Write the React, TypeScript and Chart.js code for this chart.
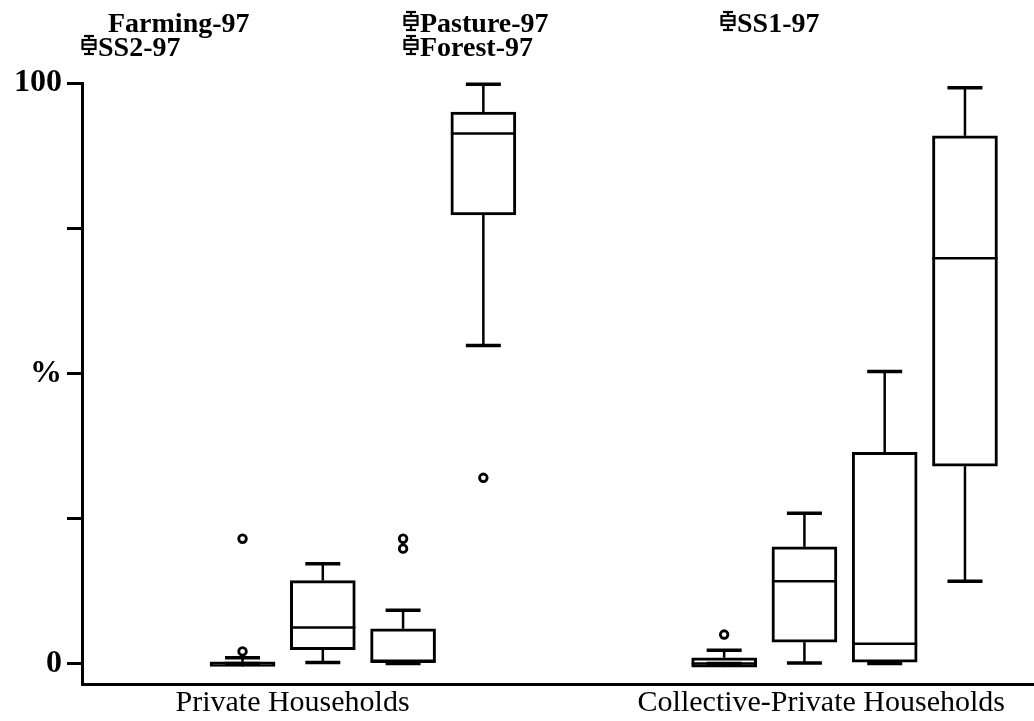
import React, { useEffect, useRef } from "react";
import { Chart, registerables } from "chart.js";

Chart.register(...registerables);

// ---- data ----
const groupLabels = ["Private Households", "Collective-Private Households"];
const legendLabels = ["Farming-97", "Pasture-97", "SS1-97", "SS2-97", "Forest-97"];
const seriesNames = ["Pasture-97", "SS1-97", "SS2-97", "Forest-97"];

// [min, q1, median, q3, max] for each group
const pastureStats = [
  [0, -0.5, 0, 0.3, 1.0],
  [0, -0.6, 0, 1.0, 2.3],
];
const pastureOutliers = [[2.1, 21.5], [5.0]];

const ss1Stats = [
  [0.2, 2.4, 6.2, 14.3, 17.2],
  [0.1, 3.7, 14.2, 20.1, 25.9],
];
const ss1Outliers = [[], []];

const ss2Stats = [
  [0, 0, 0.3, 6.0, 9.2],
  [0, 0, 3.4, 36.4, 50.3],
];
const ss2Outliers = [[19.8, 21.5], []];

const forestStats = [
  [54.8, 77.3, 91.3, 95.0, 99.8],
  [14.2, 34.0, 69.8, 90.9, 99.2],
];
const forestOutliers = [[32.0], []];

const yTicks = [0, 25, 50, 75, 100];
const yTickLabels = ["0", "", "%", "", "100"];

const allStats = [pastureStats, ss1Stats, ss2Stats, forestStats];
const allOutliers = [pastureOutliers, ss1Outliers, ss2Outliers, forestOutliers];

// ---- layout constants ----
const W = 1034;
const H = 721;
const groupStart = [2, 8];
const groupLabelPos = [2.623, 9.21];
const SERIF = "'Liberation Serif', 'Times New Roman', serif";

function line(ctx: CanvasRenderingContext2D, x1: number, y1: number, x2: number, y2: number) {
  ctx.beginPath();
  ctx.moveTo(x1, y1);
  ctx.lineTo(x2, y2);
  ctx.stroke();
}

const boxPlugin = {
  id: "boxWhiskers",
  afterDatasetsDraw(chart: any) {
    const ctx: CanvasRenderingContext2D = chart.ctx;
    const ys = chart.scales.y;
    const py = (v: number) => ys.getPixelForValue(v);
    ctx.save();
    ctx.strokeStyle = "#000";
    ctx.lineCap = "butt";
    chart.data.datasets.forEach((ds: any, di: number) => {
      const meta = chart.getDatasetMeta(di);
      ds.stats.forEach((s: number[], gi: number) => {
        const bar = meta.data[gi];
        const cx = bar.x;
        const half = bar.width / 2;
        const capHalf = 17.5;
        const [mn, q1, md, q3, mx] = s;
        ctx.lineWidth = 2.5;
        line(ctx, cx - half, py(md), cx + half, py(md));
        ctx.lineWidth = 2.5;
        line(ctx, cx, py(q3), cx, py(mx));
        line(ctx, cx, py(q1), cx, py(mn));
        ctx.lineWidth = 3.5;
        line(ctx, cx - capHalf, py(mx), cx + capHalf, py(mx));
        line(ctx, cx - capHalf, py(mn), cx + capHalf, py(mn));
        (ds.outliers[gi] || []).forEach((v: number) => {
          ctx.beginPath();
          ctx.arc(cx, py(v), 3.8, 0, Math.PI * 2);
          ctx.fillStyle = "#fff";
          ctx.fill();
          ctx.lineWidth = 2.8;
          ctx.stroke();
        });
      });
    });
    ctx.restore();
  },
};

function drawSymbol(ctx: CanvasRenderingContext2D, x: number, baseline: number) {
  const cx = x + 7;
  const top = baseline - 20;
  ctx.lineWidth = 2.2;
  line(ctx, cx - 5, top, cx + 5, top);
  line(ctx, cx, top, cx, top + 4);
  ctx.strokeRect(x + 0.5, top + 4, 13, 9);
  line(ctx, x, top + 8.5, x + 14, top + 8.5);
  line(ctx, cx, top + 13, cx, top + 18);
  line(ctx, cx - 5, top + 18, cx + 5, top + 18);
}

const legendPlugin = {
  id: "cornerLegend",
  afterDraw(chart: any) {
    const ctx: CanvasRenderingContext2D = chart.ctx;
    const colX = [82, 404, 721];
    const rowY = [32, 56];
    ctx.save();
    ctx.fillStyle = "#000";
    ctx.strokeStyle = "#000";
    ctx.font = `bold 28px ${SERIF}`;
    ctx.textBaseline = "alphabetic";
    ctx.textAlign = "left";
    legendLabels.forEach((label, i) => {
      const col = i % 3;
      const row = Math.floor(i / 3);
      const x = colX[col];
      const y = rowY[row];
      const showSymbol = seriesNames.includes(label);
      if (showSymbol) drawSymbol(ctx, x, y);
      ctx.fillText(label, x + (showSymbol ? 16 : 26), y);
    });
    ctx.restore();
  },
};

export default function App() {
  const ref = useRef<HTMLCanvasElement | null>(null);

  useEffect(() => {
    if (!ref.current) return;
    const datasets = seriesNames.map((name, si) => ({
      label: name,
      data: allStats[si].map((s, gi) => ({ x: groupStart[gi] + si, y: [s[1], s[3]] })),
      stats: allStats[si],
      outliers: allOutliers[si],
      backgroundColor: "#fff",
      borderColor: "#000",
      borderWidth: 3,
      borderSkipped: false,
      barThickness: 65,
      grouped: false,
    }));

    const chart = new Chart(ref.current, {
      type: "bar",
      data: { datasets: datasets as any },
      options: {
        animation: false,
        responsive: false,
        devicePixelRatio: 1,
        layout: { padding: { top: 83, left: 0, right: 0, bottom: 0 } },
        plugins: { legend: { display: false }, tooltip: { enabled: false } },
        scales: {
          x: {
            type: "linear",
            min: 0,
            max: 11.86,
            offset: false,
            grid: { display: false, drawTicks: false },
            border: { display: true, color: "#000", width: 3 },
            afterBuildTicks: (scale: any) => {
              scale.ticks = groupLabelPos.map((v) => ({ value: v }));
            },
            afterFit: (scale: any) => {
              scale.height = H - 684.5;
            },
            ticks: {
              autoSkip: false,
              maxRotation: 0,
              padding: 1,
              color: "#000",
              font: { family: SERIF, size: 30 },
              callback: (_v: any, i: number) => groupLabels[i],
            },
          },
          y: {
            type: "linear",
            min: -3.6,
            max: 100,
            grid: {
              display: true,
              drawOnChartArea: false,
              drawTicks: true,
              tickLength: 15,
              color: "#000",
              lineWidth: 3,
            },
            border: { display: true, color: "#000", width: 3 },
            afterBuildTicks: (scale: any) => {
              scale.ticks = yTicks.map((v) => ({ value: v }));
            },
            afterFit: (scale: any) => {
              scale.width = 82;
            },
            ticks: {
              autoSkip: false,
              padding: 5,
              color: "#000",
              font: { family: SERIF, size: 32, weight: "bold" },
              callback: (_v: any, i: number) => yTickLabels[i],
            },
          },
        },
      } as any,
      plugins: [boxPlugin, legendPlugin],
    });
    return () => chart.destroy();
  }, []);

  return (
    <div style={{ position: "fixed", left: 0, top: 0, width: W, height: H, background: "#fff" }}>
      <canvas ref={ref} width={W} height={H} style={{ width: W, height: H, display: "block" }} />
    </div>
  );
}
